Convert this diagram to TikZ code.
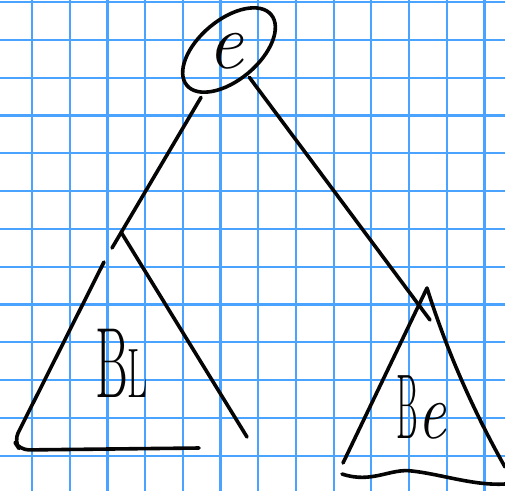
\documentclass[tikz,border=0pt]{standalone}
\usepackage{fontspec}
\usepackage{graphicx}
\usetikzlibrary{shapes.geometric}
\definecolor{gridblue}{HTML}{4AA3FF}
\definecolor{inkblack}{HTML}{050505}
\tikzset{
  gridline/.style={gridblue,line width=2.2pt},
  stroke/.style={inkblack,line width=3.6pt,line cap=round,line join=round},
  ring/.style={ellipse,draw=inkblack,line width=3.6pt,minimum width=110pt,minimum height=60pt,inner sep=0pt,outer sep=0pt},
  letter/.style={inkblack,inner sep=0pt}
}

\begin{document}
\begin{tikzpicture}[x=1pt,y=-1pt]
\fill[white] (0,0) rectangle (505,491);
\useasboundingbox (0,0) rectangle (505,491);
% squared paper
\foreach \k in {0,...,12} {
  \draw[gridline] ({32+37.7*\k},0) -- ({32+37.7*\k},491);
  \draw[gridline] (0,{2+37.8*\k}) -- (505,{2+37.8*\k});
}
% root and its label
\node[ring,rotate=40] (root) at (229,50) {};
\node[letter] (rootlbl) at (225,51) {\fontsize{80}{80}\selectfont\itshape e};
\coordinate (legL) at (112,248);
\coordinate (tipL) at (121,232);
\coordinate (legR) at (430,320);
\coordinate (tipR) at (427,288);
% edges down to the subtrees
\draw[stroke,shorten <=6pt] (root) -- (legL);
\draw[stroke,shorten <=4pt] (root) -- (legR);
% left subtree
\draw[stroke,rounded corners=9pt] (104,262) -- (14,441) -- (20,450) -- (199,448);
\draw[stroke] (tipL) -- (247,437);
\node[letter,anchor=base west] (BL) at (95,397)
  {\scalebox{.5}[1]{\fontsize{100}{100}\selectfont B\fontsize{70}{70}\selectfont L}};
% right subtree
\draw[stroke] (343,463) -- (tipR) .. controls (445,345) and (470,405) .. (505,467);
\draw[stroke] (342,474) .. controls (372,484) and (390,468) .. (412,471)
  .. controls (440,474) and (475,486) .. (505,484);
\node[letter,anchor=base west] (BR) at (396,438)
  {\scalebox{.36}[1]{\fontsize{92}{92}\selectfont B}\scalebox{.8}[1]{\fontsize{80}{80}\selectfont\itshape e}};
\end{tikzpicture}
\end{document}
